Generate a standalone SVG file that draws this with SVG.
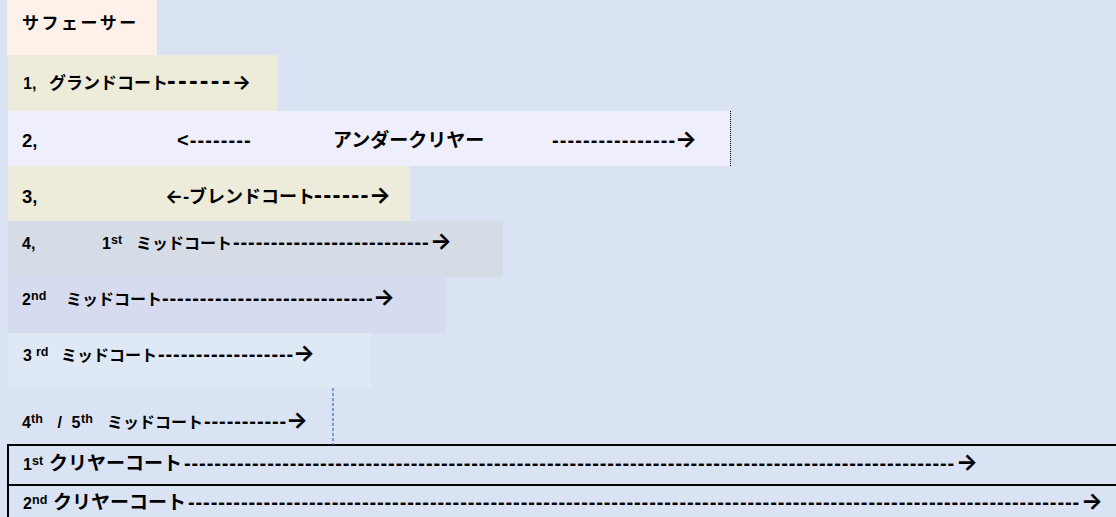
<svg xmlns="http://www.w3.org/2000/svg" width="1116" height="517" viewBox="0 0 1116 517">
<style>
text{font-family:"Liberation Sans","Noto Sans CJK JP",sans-serif;font-weight:700;fill:#000;font-size:16px}
.j{font-family:"Noto Sans CJK JP","Liberation Sans",sans-serif;font-size:16px}
.a{font-family:Inter,"DejaVu Sans",sans-serif;font-size:23px;font-weight:700}
.d{font-size:20px;letter-spacing:0.9px}
.s{font-size:12.5px}
.big{font-size:18.5px}
.frame{fill:#DAE3F3;stroke:#000;stroke-width:2}
</style>
<rect x="0" y="0" width="1116" height="517" fill="#DAE3F3"/>

<g id="surfacer">
<rect x="7" y="0" width="150" height="55" fill="#FDF1E9"/>
<text x="22" y="29" class="j" style="font-size:17px;letter-spacing:2.5px">サフェーサー</text>
</g>

<g id="ground-coat">
<rect x="8" y="55" width="269" height="56" fill="#EDECDB"/>
<text y="89"><tspan x="23">1, </tspan><tspan x="49" class="j" style="font-size:17px">グランドコート</tspan><tspan x="167" style="font-size:26px;letter-spacing:2.3px">------</tspan><tspan x="232" class="a" style="font-size:20px">→</tspan></text>
</g>

<g id="under-clear">
<rect x="8" y="111" width="722" height="55" fill="#EEEEFC"/>
<text y="147" class="big"><tspan x="22">2, </tspan><tspan x="177" style="font-size:20px;letter-spacing:1.1px">&lt;--------</tspan><tspan x="333" class="j" style="font-size:19px">アンダークリヤー</tspan><tspan x="552" style="font-size:20px;letter-spacing:1.1px">----------------</tspan><tspan x="675" class="a">→</tspan></text>
</g>

<g id="blend-coat">
<rect x="8" y="166" width="402" height="55" fill="#EDECDB"/>
<text y="203" class="big"><tspan x="22">3, </tspan><tspan x="165" class="a" style="font-size:19px">←</tspan><tspan x="183">-</tspan><tspan x="189" class="j" style="font-size:18px">ブレンドコート</tspan><tspan x="314" style="font-size:24px;letter-spacing:1.3px">------</tspan><tspan x="369" class="a">→</tspan></text>
</g>

<g id="mid-coat-1">
<rect x="8" y="221" width="495" height="56" fill="#D6DCE5"/>
<text y="249"><tspan x="22">4, </tspan><tspan x="102">1</tspan><tspan x="111" dy="-5" class="s">st </tspan><tspan x="136" dy="5" class="j">ミッドコート</tspan><tspan x="233" class="d">--------------------------</tspan><tspan x="430" class="a">→</tspan></text>
</g>

<g id="mid-coat-2">
<rect x="8" y="277" width="438" height="56" fill="#D6DBEF"/>
<text y="305"><tspan x="22">2</tspan><tspan x="31" dy="-5" class="s">nd  </tspan><tspan x="66" dy="5" class="j">ミッドコート</tspan><tspan x="162" class="d">----------------------------</tspan><tspan x="373" class="a">→</tspan></text>
</g>

<g id="mid-coat-3">
<rect x="8" y="333" width="363" height="55" fill="#DFE9F6"/>
<text y="361"><tspan x="23">3 </tspan><tspan x="36" dy="-5" class="s">rd </tspan><tspan x="61" dy="5" class="j">ミッドコート</tspan><tspan x="158" class="d">------------------</tspan><tspan x="293" class="a">→</tspan></text>
</g>

<g id="mid-coat-45">
<text y="428"><tspan x="22">4</tspan><tspan x="31" dy="-5" class="s">th</tspan><tspan x="53" dy="5"> /</tspan><tspan x="67"> 5</tspan><tspan x="81" dy="-5" class="s">th </tspan><tspan x="107" dy="5" class="j">ミッドコート</tspan><tspan x="204" class="d">-----------</tspan><tspan x="286" class="a">→</tspan></text>
</g>

<g id="clear-coat-1">
<rect x="8" y="445" width="1130" height="40" class="frame"/>
<text y="470"><tspan x="23">1</tspan><tspan x="32" dy="-5" class="s">st </tspan><tspan x="49" dy="5" class="j" style="font-size:19px">クリヤーコート</tspan><tspan x="184" class="d">------------------------------------------------------------------------------------------------------</tspan><tspan x="956" class="a">→</tspan></text>
</g>

<g id="clear-coat-2">
<rect x="8" y="485" width="1130" height="40" class="frame"/>
<text y="509"><tspan x="23">2</tspan><tspan x="32" dy="-5" class="s">nd </tspan><tspan x="53" dy="5" class="j" style="font-size:19px">クリヤーコート</tspan><tspan x="188" class="d">----------------------------------------------------------------------------------------------------------------------</tspan><tspan x="1081" class="a">→</tspan></text>
</g>

<g id="guides">
<line x1="730.5" y1="111" x2="730.5" y2="166" stroke="#000" stroke-width="1" stroke-dasharray="1 1"/>
<line x1="333" y1="388" x2="333" y2="445" stroke="#4472C4" stroke-width="1.3" stroke-dasharray="3 2"/>
</g>
</svg>
